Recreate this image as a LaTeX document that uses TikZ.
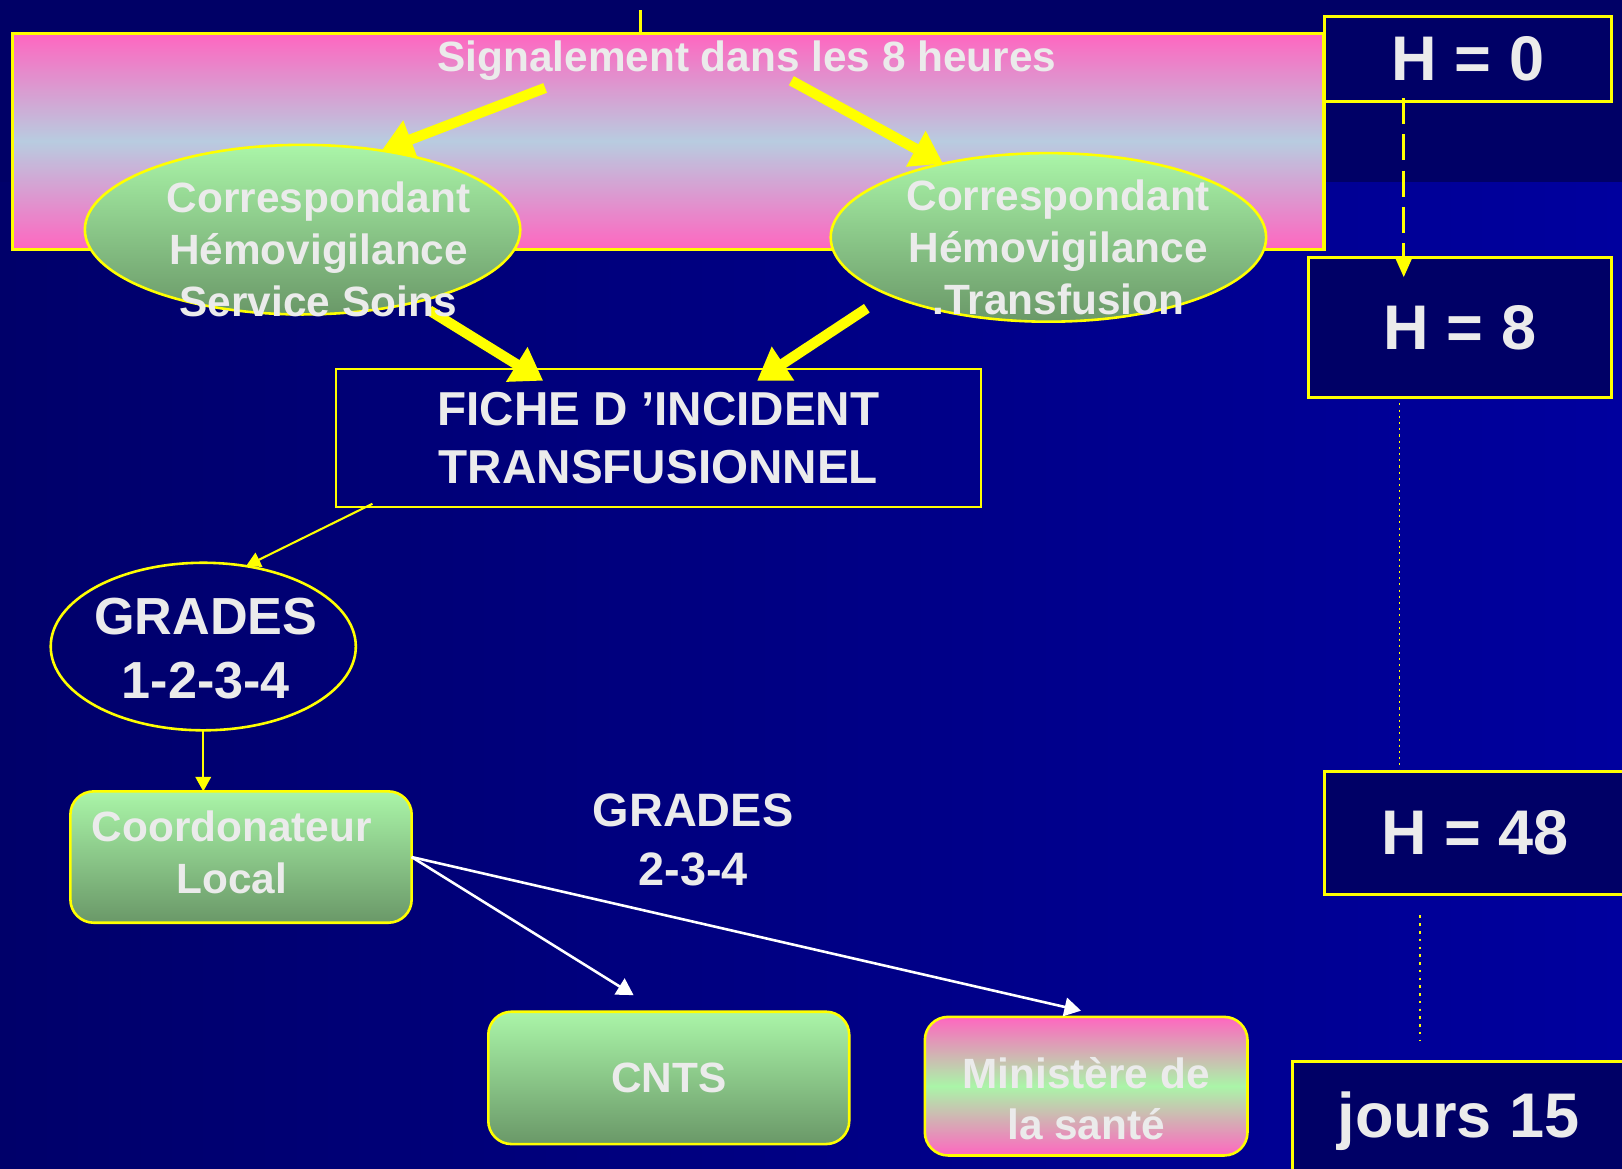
\documentclass[tikz,border=0pt]{standalone}
\usepackage{fontspec}
\setmainfont{Liberation Sans}
\usetikzlibrary{shapes.geometric,arrows.meta,calc}
\definecolor{fondA}{HTML}{00006A}
\definecolor{fondB}{HTML}{00009E}
\definecolor{fondH}{HTML}{000066}
\definecolor{jaune}{HTML}{FFFF00}
\definecolor{rose}{HTML}{FF66C0}
\definecolor{bleuc}{HTML}{B8CCE0}
\definecolor{vertc}{HTML}{AAF5A8}
\definecolor{vertf}{HTML}{6A9868}
\definecolor{texte}{HTML}{EBEBEB}

\tikzset{
  txt/.style={text=texte, align=center, inner sep=0pt, font=\bfseries\fontsize{23.3}{28.5}\selectfont},
  cadre/.style={draw=jaune, line width=0.06cm, fill=fondH, inner sep=0pt, outer sep=0pt,
    text=texte, font=\bfseries\fontsize{34.7}{40}\selectfont},
  boite/.style={draw=jaune, line width=0.05cm, rounded corners=0.45cm, inner sep=0pt, outer sep=0pt},
  bulle/.style={ellipse, draw=jaune, line width=0.05cm, inner sep=0pt, outer sep=0pt},
  vert/.style={top color=vertc, bottom color=vertf},
  grosse/.style={draw=jaune, line width=0.2cm, -{Triangle[width=0.75cm,length=0.6cm]}},
  fine/.style={draw=jaune, line width=0.04cm, -{Triangle[width=0.3cm,length=0.28cm]}},
  blanche/.style={draw=white, line width=0.05cm, -{Triangle[width=0.36cm,length=0.32cm]}},
}

\begin{document}
\begin{tikzpicture}[x=0.02cm,y=-0.02cm]
\useasboundingbox (0,0) rectangle (1568,1130);
% fond
\shade[left color=fondA, right color=fondB] (0,0) rectangle (1568,1130);
\fill[fondH] (0,0) rectangle (1568,176);

% bandeau du haut
\node[draw=jaune, line width=0.06cm, inner sep=0pt, outer sep=0pt, top color=rose, bottom color=rose, middle color=bleuc,
  minimum width=25.36cm, minimum height=4.18cm] (bande) at (646,136.5) {};
\draw[jaune, line width=0.06cm] (bande.north west) ++(607,0) -- ++(0,-22);
\node[txt] (signal) at (722,59) {Signalement dans les 8 heures};

% correspondants
\node[bulle, vert, minimum width=8.42cm, minimum height=3.28cm] (corr1) at (292.5,222) {};
\node[bulle, vert, minimum width=8.42cm, minimum height=3.26cm] (corr2) at (1013.5,229.5) {};

% fiche et grades
\node[draw=jaune, line width=0.04cm, inner sep=0pt, outer sep=0pt, minimum width=12.46cm, minimum height=2.66cm,
  text=texte, align=center, font=\bfseries\fontsize{26.2}{31.9}\selectfont] (fiche) at (636.5,423.5) {FICHE D ’INCIDENT\\TRANSFUSIONNEL};
\node[bulle, minimum width=5.9cm, minimum height=3.24cm] (grades) at (196.5,625) {};
\node[txt, font=\bfseries\fontsize{28.7}{34.7}\selectfont] (gradestxt) at (199,627) {GRADES\\1-2-3-4};
\node[txt, font=\bfseries\fontsize{25.8}{32.4}\selectfont] (grades2) at (670,811.5) {GRADES\\2-3-4};

% destinataires
\node[boite, vert, minimum width=6.6cm, minimum height=2.54cm] (coord) at (233,828.5) {};
\node[txt] (coordtxt) at (224,824) {Coordonateur\\Local};
\node[boite, vert, minimum width=6.98cm, minimum height=2.56cm, txt] (cnts) at (646.5,1042) {CNTS};
\node[boite, top color=rose, bottom color=rose, middle color=vertc, minimum width=6.24cm, minimum height=2.68cm]
  (minis) at (1050,1050) {};
\node[txt] (ministxt) at (1050,1062) {Ministère de\\la santé};

% delais
\node[cadre, minimum width=5.56cm, minimum height=1.64cm] (h0) at (1419,57) {H = 0};
\node[cadre, minimum width=5.86cm, minimum height=2.7cm] (h8) at (1411.5,316.5) {H = 8};
\node[cadre, minimum width=5.84cm, minimum height=2.38cm] (h48) at (1426,805.5) {H = 48};
\node[cadre, minimum width=6.44cm, minimum height=2.16cm, text depth=0.08cm] (jours) at (1410,1080) {jours 15};

% fleches
\coordinate (a1) at (527,85);
\coordinate (a2) at (765,78);
\coordinate (a3) at (415,300);
\coordinate (a4) at (838,298);
\draw[grosse] (a1) -- (corr1.45);
\draw[grosse] (a2) -- (corr2.145);
\draw[grosse] (a3) -- ($(fiche.north west)+(200,11)$);
\draw[grosse] (a4) -- ($(fiche.north east)+(-216,11)$);

\node[txt] (corr1txt) at (308,241) {Correspondant\\Hémovigilance\\Service Soins};
\node[txt] (corr2txt) at (1023,239) {Correspondant\\Hémovigilance\\.Transfusion};

\draw[fine] ($(fiche.south west)+(35,-3)$) -- (grades.62);
\draw[fine] (grades.south) -- (grades.south |- coord.north);
\draw[blanche] (coord.east) -- ($(cnts.north)+(-34,-16)$);
\draw[blanche] (coord.east) -- ($(minis.north)+(-5,-6)$);

% echelle de temps
\coordinate (d0) at ($(h0.south)+(-62,-3)$);
\coordinate (d8) at ($(h8.north)+(-54.5,19)$);
\draw[jaune, line width=0.06cm, dash pattern=on 0.5cm off 0.2cm, -{Triangle[width=0.3cm,length=0.36cm]}] (d0) -- (d8);
\coordinate (p1) at ($(h8.south)+(-58.5,6)$);
\coordinate (p2) at ($(h48.north)+(-73,-1)$);
\coordinate (p3) at ($(h48.south)+(-53,20)$);
\coordinate (p4) at ($(jours.north)+(-37,-21)$);
\draw[jaune, line width=0.025cm, dash pattern=on 0.04cm off 0.08cm] (p1) -- (p2);
\draw[jaune, line width=0.04cm, dash pattern=on 0.05cm off 0.1cm] (p3) -- (p4);
\end{tikzpicture}
\end{document}
